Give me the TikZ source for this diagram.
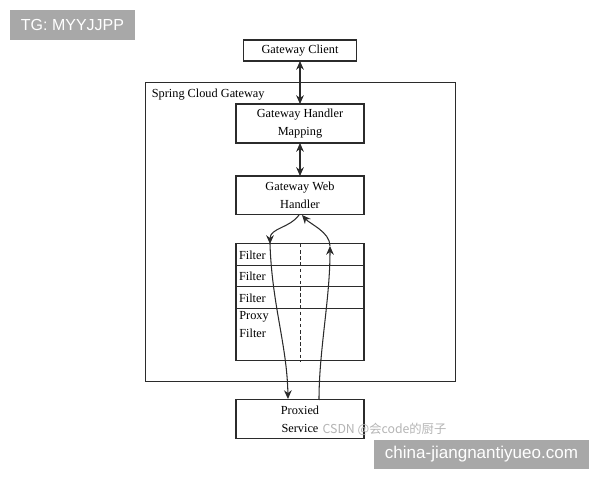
\documentclass[tikz,border=0pt]{standalone}
\usepackage{fontspec}
\setmainfont{Liberation Serif}
\newfontfamily\wmfont{Liberation Sans}
\newfontfamily\cjkfont{Noto Sans CJK SC}
\usepackage{tikz}
\usetikzlibrary{arrows.meta, positioning, calc}
\definecolor{boxline}{HTML}{2B2B2B}
\definecolor{wmgray}{HTML}{A8A8A8}
\definecolor{wmtext}{HTML}{B4B4B4}
\newcommand{\gwfont}{\fontsize{7}{10.2}\selectfont}
\tikzset{
  gwbox/.style={draw=boxline, line width=0.6pt, fill=white, minimum width=2.56cm,
                minimum height=0.78cm, font=\gwfont, align=center, inner sep=1pt,
                outer sep=0pt},
  filtercell/.style={draw=boxline, line width=0.6pt, minimum width=2.56cm,
                     text width=2.44cm, inner xsep=0.06cm, inner ysep=0pt,
                     outer sep=0pt, font=\gwfont, align=left},
  celltext/.style={font=\gwfont, align=left, inner xsep=0.06cm, inner ysep=1.5pt},
  framebox/.style={draw=boxline, line width=0.6pt, minimum width=6.22cm, minimum height=6cm},
  arr/.style={-{Stealth[length=5pt, width=4.4pt]}, line width=0.6pt, boxline},
  dblarr/.style={{Stealth[length=5pt, width=4.4pt]}-{Stealth[length=5pt, width=4.4pt]},
                 line width=0.6pt, boxline},
  wmbox/.style={fill=wmgray, text=white, font=\wmfont, inner sep=0pt},
}

\begin{document}
\begin{tikzpicture}[x=0.02cm, y=-0.02cm]
  \useasboundingbox (0,0) rectangle (600,480);

  %% outer frame
  \node[framebox] (scg) at (300.5,232) {};
  \node[font=\gwfont, inner sep=0pt, anchor=north west]
    (scgname) at ($(scg.north west)+(7,7)$) {Spring Cloud Gateway};

  %% main column
  \node[gwbox, minimum width=2.26cm, minimum height=0.42cm] (client) at (300,50.5) {Gateway Client};
  \node[gwbox, below=0.86cm of client] (mapping) {Gateway Handler\\Mapping};
  \node[gwbox, below=0.66cm of mapping] (web) {Gateway Web\\Handler};

  %% filter chain
  \node[filtercell, minimum height=0.44cm, below=0.58cm of web] (f1) {Filter};
  \node[filtercell, minimum height=0.42cm, below=0pt of f1] (f2) {Filter};
  \node[filtercell, minimum height=0.44cm, below=0pt of f2] (f3) {Filter};
  \node[filtercell, minimum height=1.04cm, below=0pt of f3] (f4) {};
  \node[celltext, anchor=north west] (f4txt) at (f4.north west) {Proxy\\Filter};
  \draw[boxline, line width=0.5pt, dash pattern=on 2pt off 1.5pt] (f1.north) -- (f4.south);

  \node[gwbox, below=0.78cm of f4] (proxied) {Proxied\\Service};

  %% arrows
  \draw[dblarr] (client) -- (mapping);
  \draw[dblarr] (mapping) -- (web);

  \coordinate (downA) at (270,244);
  \coordinate (downB) at (288,399);
  \coordinate (upA) at (319,400);
  \coordinate (upB) at (330,246);

  \draw[arr] ($(web.south)+(-1,0)$) .. controls (290,228) and (270,228) .. (downA);
  \draw[arr] (downA) .. controls (272,305) and (287,345) .. (downB);
  \draw[arr] (upA) .. controls (319,350) and (330,300) .. (upB);
  \draw[arr] (upB) .. controls (330,232) and (310,224) .. ($(web.south)+(2,0)$);

  %% watermarks
  \node[wmbox, minimum width=2.5cm, minimum height=0.6cm, font=\wmfont\fontsize{9.1}{10}\selectfont]
    (tg) at (72.5,25) {TG: MYYJJPP};
  \node[text=wmtext, font=\cjkfont\fontsize{7}{8}\selectfont, inner sep=0pt]
    (csdn) at (384.5,429) {CSDN @会code的厨子};
  \node[wmbox, minimum width=4.3cm, minimum height=0.58cm, font=\wmfont\fontsize{9.7}{11}\selectfont]
    (site) at (481.5,454.5) {china-jiangnantiyueo.com};

\end{tikzpicture}
\end{document}
